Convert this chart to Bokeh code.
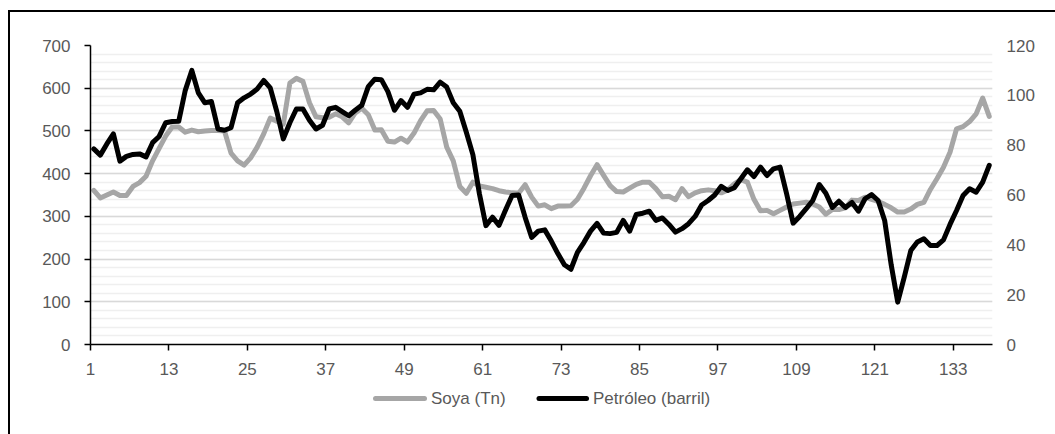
from bokeh.plotting import figure
from bokeh.layouts import column
from bokeh.core.properties import value
from bokeh.models import (Range1d, LinearAxis, SingleIntervalTicker, FixedTicker,
                          ColumnDataSource)
from bokeh.embed import file_html
from bokeh.resources import INLINE

# Monthly series: soybean price (USD per tonne) and oil price (USD per barrel)
periods = list(range(1, 139))

soya = [361, 343, 350, 357, 349, 349, 370, 379, 394, 430,
        459, 488, 509, 509, 497, 502, 498, 500, 501, 501,
        500, 448, 430, 420, 437, 462, 493, 530, 523, 516,
        612, 623, 616, 566, 533, 531, 532, 540, 533, 519,
        542, 553, 538, 502, 503, 476, 474, 483, 474, 495,
        524, 547, 548, 528, 462, 430, 370, 354, 380, 371,
        368, 365, 360, 357, 355, 354, 374, 345, 324, 327,
        318, 324, 324, 325, 340, 366, 395, 421, 396, 372,
        358, 357, 366, 375, 380, 380, 365, 346, 347, 339,
        365, 346, 355, 360, 362, 360, 355, 362, 376, 386,
        380, 340, 313, 314, 306, 314, 322, 329, 331, 333,
        329, 322, 305, 316, 316, 320, 338, 337, 345, 340,
        335, 328, 320, 310, 310, 317, 328, 333, 363, 388,
        415, 450, 505, 510, 522, 540, 577, 534]

petroleo = [78.5, 76.0, 80.5, 84.5, 73.6, 75.5, 76.3, 76.5, 75.3, 81.0,
            83.5, 89.0, 89.5, 89.6, 102.0, 110.0, 101.0, 97.0, 97.5, 86.5,
            86.0, 87.0, 97.0, 99.0, 100.5, 102.5, 106.0, 103.0, 93.5, 82.5,
            89.0, 94.5, 94.5, 90.0, 86.5, 88.0, 94.5, 95.2, 93.5, 91.8,
            94.0, 96.0, 103.5, 106.5, 106.3, 101.5, 94.0, 97.9, 95.2, 100.5,
            101.0, 102.4, 102.2, 105.3, 103.3, 97.0, 93.6, 85.2, 76.2, 60.5,
            47.7, 51.1, 47.8, 54.0, 59.8, 60.0, 51.0, 43.0, 45.5, 46.0,
            41.5, 36.5, 32.0, 30.2, 37.0, 41.0, 45.5, 48.6, 44.7, 44.5,
            45.0, 49.8, 45.5, 52.2, 52.7, 53.5, 49.8, 50.8, 48.2, 45.1,
            46.5, 48.5, 51.4, 56.0, 57.8, 60.0, 63.5, 61.8, 62.9, 66.5,
            70.1, 67.4, 71.2, 67.8, 70.5, 71.2, 60.5, 48.7, 51.4, 54.5,
            57.8, 64.2, 60.7, 55.0, 57.5, 55.0, 57.0, 53.5, 58.5, 60.2,
            57.8, 49.8, 32.0, 17.0, 27.0, 37.7, 41.1, 42.4, 39.7, 39.7,
            42.0, 48.2, 53.8, 59.8, 62.5, 61.1, 65.2, 71.9]

x_tick_labels = ["1", "13", "25", "37", "49", "61", "73", "85", "97", "109", "121", "133"]

series_names = ["Soya (Tn)", "Petróleo (barril)"]

FONT = "Liberation Sans"
TEXT_COLOR = "#595959"
FONT_SIZE = "17px"
SOYA_COLOR = "#a6a6a6"
PET_COLOR = "#000000"
LINE_W = 5

source = ColumnDataSource(data=dict(period=periods, soya=soya, petroleo=petroleo))

# ---- main chart -------------------------------------------------------------
p = figure(width=1045, height=372,
           x_range=Range1d(0.5, len(periods) + 0.5),
           y_range=Range1d(0, 700),
           output_backend="svg", toolbar_location=None,
           min_border_left=80, min_border_right=63,
           min_border_top=33, min_border_bottom=40)
p.outline_line_color = None
p.background_fill_color = "white"
p.border_fill_color = "white"

# secondary scale for the oil price
p.extra_y_ranges = {"pet": Range1d(0, 120)}

# category boundaries carry the tick marks, labels show the category number
tick_pos = [int(t) - 0.5 for t in x_tick_labels]
xa = p.xaxis[0]
xa.ticker = FixedTicker(ticks=tick_pos)
xa.major_label_overrides = {pos: lab for pos, lab in zip(tick_pos, x_tick_labels)}

ya = p.yaxis[0]
ya.ticker = SingleIntervalTicker(interval=100, num_minor_ticks=5)

ra = LinearAxis(y_range_name="pet", ticker=SingleIntervalTicker(interval=20))
p.add_layout(ra, "right")

for ax in (xa, ya, ra):
    ax.major_label_text_font = FONT
    ax.major_label_text_font_size = FONT_SIZE
    ax.major_label_text_color = TEXT_COLOR
    ax.minor_tick_line_color = None
    ax.axis_line_color = "black"
    ax.axis_line_width = 1.5
    ax.major_tick_line_color = "black"
    ax.major_tick_line_width = 1.5
    ax.major_tick_in = 0
    ax.major_tick_out = 6

xa.major_label_standoff = 12
ya.major_label_standoff = 14
ra.axis_line_color = None
ra.major_tick_line_color = None
ra.major_label_standoff = 8

p.xgrid.grid_line_color = None
p.ygrid.grid_line_color = "#d9d9d9"
p.ygrid.grid_line_width = 1.5
p.ygrid.minor_grid_line_color = "#efefef"
p.ygrid.minor_grid_line_width = 1.5

p.line("period", "soya", source=source, line_color=SOYA_COLOR, line_width=LINE_W,
       line_join="round", line_cap="round")
p.line("period", "petroleo", source=source, y_range_name="pet",
       line_color=PET_COLOR, line_width=LINE_W, line_join="round", line_cap="round")

# ---- legend strip under the chart (coordinates are page pixels) -------------
q = figure(width=1045, height=50, x_range=Range1d(90, 992), y_range=Range1d(434, 384),
           output_backend="svg", toolbar_location=None,
           x_axis_type=None, y_axis_type=None,
           min_border_left=80, min_border_right=63, min_border_top=0, min_border_bottom=0)
q.outline_line_color = None
q.grid.grid_line_color = None
q.background_fill_color = "white"
q.border_fill_color = "white"

key_y = 398
key_src = ColumnDataSource(data=dict(
    x0=[375, 538.5], x1=[424, 586], y=[key_y, key_y],
    color=[SOYA_COLOR, PET_COLOR], tx=[430.5, 592.5], label=series_names))
q.segment(x0="x0", y0="y", x1="x1", y1="y", source=key_src, line_color="color",
          line_width=LINE_W, line_cap="round")
q.text(x="tx", y="y", text="label", source=key_src, text_font=value(FONT),
       text_font_size=FONT_SIZE, text_color=TEXT_COLOR,
       text_align="left", text_baseline="middle")

layout = column(p, q, spacing=0,
                styles={"margin-left": "8px", "margin-top": "10px",
                        "border-left": "2px solid #000000",
                        "border-top": "2px solid #000000"})

open("out.html", "w").write(file_html(layout, INLINE))
